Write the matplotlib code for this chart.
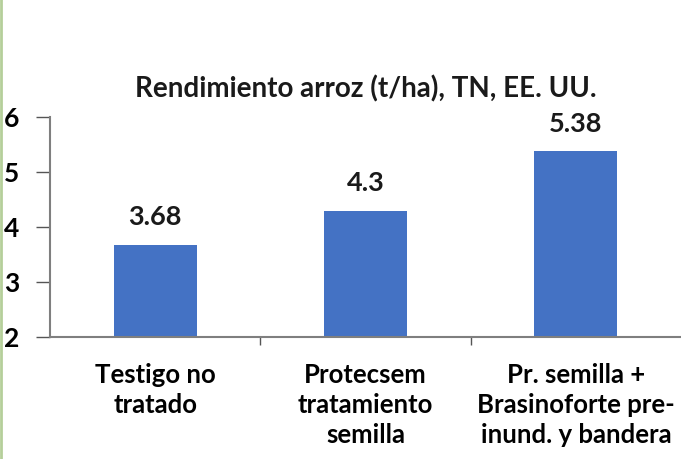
import matplotlib
matplotlib.use("Agg")
import matplotlib.pyplot as plt
from matplotlib.lines import Line2D
import numpy as np

categorias = ["Testigo no\ntratado", "Protecsem\ntratamiento\nsemilla",
              "Pr. semilla +\nBrasinoforte pre-\ninund. y bandera"]
rendimiento = [3.68, 4.3, 5.38]
etiquetas = ["3.68", "4.3", "5.38"]

plt.rcParams["font.family"] = ["Lato", "DejaVu Sans"]

fig = plt.figure(figsize=(6.81, 4.59), dpi=100)
ax = fig.add_axes([50 / 681, 122 / 459, 631 / 681, 220 / 459])

x = np.arange(len(categorias))
ax.bar(x, rendimiento, width=0.395, color="#4472C4", bottom=0, zorder=2)
for xi, v, t in zip(x, rendimiento, etiquetas):
    ax.text(xi, v + 0.28, t, ha="center", va="bottom", fontsize=19.5,
            fontweight="bold", color="#1a1a1a")

ax.set_xlim(-0.5, 2.5)
ax.set_ylim(2, 6)
ax.set_yticks([2, 3, 4, 5, 6])
ax.set_yticklabels(["2", "3", "4", "5", "6"], fontsize=19, fontweight="bold")
ax.set_xticks(x)
ax.set_xticklabels(categorias, fontsize=18.5, fontweight="bold", linespacing=1.3)
ax.tick_params(axis="x", length=0, pad=19)
ax.set_xticks([0.5, 1.5], minor=True)
ax.tick_params(axis="x", which="minor", length=6, color="#555555", width=1)
ax.tick_params(axis="y", length=10, color="#555555", width=1, pad=12)

for s in ["top", "right"]:
    ax.spines[s].set_visible(False)
for s in ["left", "bottom"]:
    ax.spines[s].set_color("#7f7f7f")
    ax.spines[s].set_linewidth(1.5)

ax.set_title("Rendimiento arroz (t/ha), TN, EE. UU.", fontsize=20,
             fontweight="bold", pad=14, color="#1a1a1a")

# fine green line on left edge
fig.add_artist(Line2D([0.002, 0.002], [0, 1], color="#b5cf9a", linewidth=2,
                      transform=fig.transFigure))

fig.savefig("out.png", dpi=100, facecolor="white")
